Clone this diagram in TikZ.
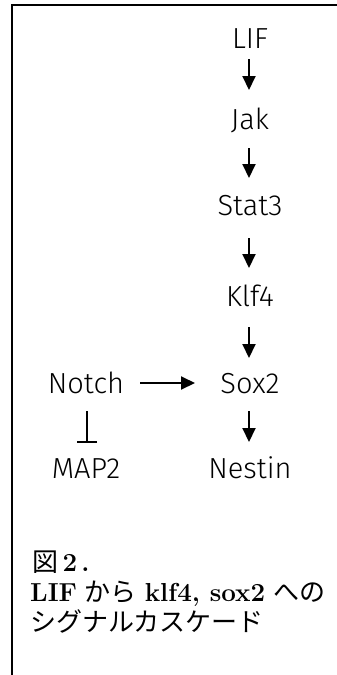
\documentclass[tikz,border=0pt]{standalone}
\usepackage{fontspec}
\usetikzlibrary{arrows.meta}
\newfontfamily\diag{Fira Sans Light}
\newfontfamily\cjk{Noto Sans CJK JP}
\tikzset{
  lbl/.style={font=\diag\fontsize{29}{32}\selectfont, anchor=base, inner sep=0pt},
  act/.style={line width=2pt, -{Triangle[length=14pt,width=13pt]}},
  inh/.style={line width=2pt, -{Bar[width=20pt,line width=2pt]}},
  frame/.style={line width=2pt},
  captxt/.style={anchor=base west, inner sep=0pt, font=\fontsize{26}{30}\selectfont}
}
\begin{document}
\begin{tikzpicture}[x=1pt,y=-1pt]
\useasboundingbox (0,0) rectangle (337,675);
\draw[frame] (337,5) -- (11.5,5) -- (11.5,675);
\node[lbl] (lif) at (250,48) {LIF};
\node[lbl] (jak) at (250,129) {Jak};
\node[lbl] (stat) at (250,215) {Stat3};
\node[lbl] (klf) at (250,306) {Klf4};
\node[lbl] (sox) at (250,393) {Sox2};
\node[lbl] (nes) at (250,478) {Nestin};
\node[lbl] (notch) at (86,393) {Notch};
\node[lbl] (map) at (86,478) {MAP2};
\coordinate (a1) at (249,59); \coordinate (b1) at (249,90);
\coordinate (a2) at (249,148); \coordinate (b2) at (249,178);
\coordinate (a3) at (249,238); \coordinate (b3) at (249,268);
\coordinate (a4) at (249,327); \coordinate (b4) at (249,358);
\coordinate (a5) at (249,411); \coordinate (b5) at (249,442);
\coordinate (a6) at (140,383); \coordinate (b6) at (195,383);
\coordinate (a7) at (87,411); \coordinate (b7) at (87,443);
\draw[act] (a1) -- (b1);
\draw[act] (a2) -- (b2);
\draw[act] (a3) -- (b3);
\draw[act] (a4) -- (b4);
\draw[act] (a5) -- (b5);
\draw[act] (a6) -- (b6);
\draw[inh] (a7) -- (b7);
\node[captxt] (c1) at (32,571) {{\cjk 図}\,\textbf{2\,.}};
\node[captxt] (c2) at (30,601) {\textbf{LIF} {\cjk から} \textbf{klf4, sox2} {\cjk への}};
\node[captxt] (c3) at (30,631) {\cjk シグナルカスケード};
\end{tikzpicture}
\end{document}
